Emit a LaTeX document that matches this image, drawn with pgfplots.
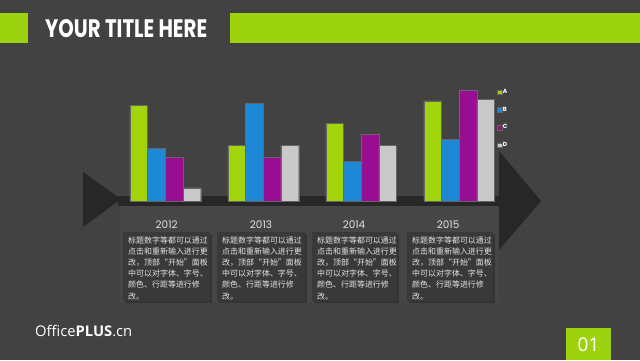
\documentclass[border=0pt]{standalone}
\usepackage{pgfplots}
\pgfplotsset{compat=1.18}
\usepackage{pgfplotstable}
\usepackage{fontspec}
\usepackage{graphicx}
\setmainfont{Poppins}
\newfontfamily\cjk{Noto Sans CJK SC}
\newfontfamily\opensans{Open Sans}
\definecolor{bg}{HTML}{424242}
\definecolor{lime}{HTML}{9DD20E}
\definecolor{cA}{HTML}{A2D40C}
\definecolor{cB}{HTML}{1C88D6}
\definecolor{cC}{HTML}{990D93}
\definecolor{cD}{HTML}{C9C9C9}
\definecolor{arrowc}{HTML}{272727}
\definecolor{boxc}{HTML}{393939}
\definecolor{panel}{HTML}{464646}

\pgfplotstableread{
x A B C D
0 3.84 2.11 1.77 0.53
1 2.24 3.91 1.77 2.24
2 3.11 1.60 2.68 2.24
3 4.01 2.48 4.44 4.08
}\data

\newcommand{\boxtext}{标题数字等都可以通过\\点击和重新输入进行更\\改，顶部“开始”面板\\中可以对字体、字号、\\颜色、行距等进行修\\改。}

\begin{document}
\begin{tikzpicture}[x=1bp,y=1bp]
\fill[bg] (0,0) rectangle (640,360);
\useasboundingbox (0,0) rectangle (640,360);
\coordinate (axorig) at (120,159);
% title bar
\fill[lime] (0,317) rectangle (28,347);
\fill[lime] (230,317) rectangle (640,347);
\node[anchor=south west, inner sep=0, text=white] at (45,322) {\resizebox{162bp}{18bp}{\bfseries YOUR TITLE HERE}};
% panel below timeline
\fill[panel] (120,57) rectangle (499,154);
% arrow
\fill[arrowc] (83,188) -- (83,133) -- (121,161) -- cycle;
\fill[arrowc] (118,154) rectangle (500,164);
\fill[arrowc] (499,209) -- (541,159) -- (499,110) -- cycle;
% text boxes
\foreach \xa/\xb in {123/210, 217/305, 312/397, 407/493} {
  \fill[black,opacity=0.25] (\xa+1.5,57.5) rectangle (\xb+1.5,126.5);
  \fill[boxc] (\xa,59) rectangle (\xb,128);
  \node[anchor=north west, inner sep=0, align=left, text=white!90!black,
        font=\cjk\fontsize{8}{11.2}\selectfont] at (\xa+5,123.7) {\boxtext};
}
\begin{axis}[
  at={(axorig)}, anchor=south west, scale only axis,
  width=379bp, height=116bp,
  xmin=-0.4625, xmax=3.4068, ymin=0, ymax=4.64,
  ybar=0pt, bar width=17.7bp,
  axis line style={draw=none}, tick style={draw=none},
  ytick=\empty,
  xtick={0.014,0.977,1.927,2.887},
  xticklabels={2012,2013,2014,2015},
  xticklabel style={anchor=center, yshift=-19.5bp, text=white!88!black,
                    font=\fontsize{10.5}{12}\selectfont},
  clip=false,
  legend style={at={(0.9947,0.974)}, anchor=north west, draw=none, fill=none,
                inner sep=0pt, row sep=10bp, text=white,
                font=\fontsize{6}{7}\bfseries\selectfont, nodes={inner sep=1bp}},
  legend cell align=left,
  legend image code/.code={\fill[#1] (0bp,-2.2bp) rectangle (4.4bp,2.2bp);},
]
\addplot[fill=cA, draw=black!60, line width=0.3bp] table[x=x,y=A]{\data};
\addplot[fill=cB, draw=black!60, line width=0.3bp] table[x=x,y=B]{\data};
\addplot[fill=cC, draw=black!60, line width=0.3bp] table[x=x,y=C]{\data};
\addplot[fill=cD, draw=black!60, line width=0.3bp] table[x=x,y=D]{\data};
\legend{A,B,C,D}
\end{axis}
% logo and page number
\node[anchor=west, inner sep=0, text=white] at (35,29) {\resizebox{97bp}{!}{\opensans Office\textbf{PLUS}.cn}};
\fill[lime] (566,0) rectangle (611,32);
\node[text=white, font=\opensans\fontsize{19}{19}\selectfont] at (588.5,15) {01};
\end{tikzpicture}
\end{document}
